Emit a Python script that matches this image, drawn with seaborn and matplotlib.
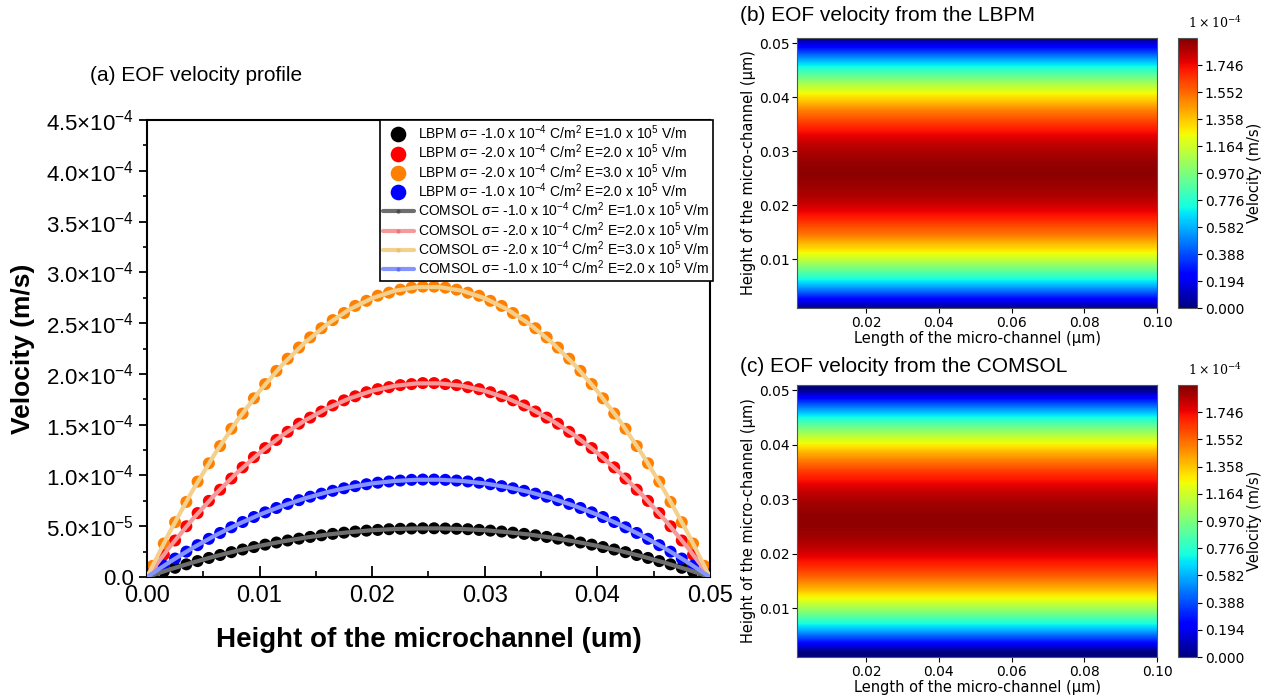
import numpy as np
import pandas as pd
import matplotlib
matplotlib.use("Agg")
import matplotlib.pyplot as plt
from matplotlib.ticker import MultipleLocator
import seaborn as sns

# ---------------- data (velocities in units of 1e-4 m/s) ----------------
lbpm_x = [0.0005, 0.0015, 0.0025, 0.0035, 0.0045, 0.0055, 0.0065, 0.0075, 0.0085, 0.0095,
          0.0105, 0.0115, 0.0125, 0.0135, 0.0145, 0.0155, 0.0165, 0.0175, 0.0185, 0.0195,
          0.0205, 0.0215, 0.0225, 0.0235, 0.0245, 0.0255, 0.0265, 0.0275, 0.0285, 0.0295,
          0.0305, 0.0315, 0.0325, 0.0335, 0.0345, 0.0355, 0.0365, 0.0375, 0.0385, 0.0395,
          0.0405, 0.0415, 0.0425, 0.0435, 0.0445, 0.0455, 0.0465, 0.0475, 0.0485, 0.0495]

lbpm_black = [0.019, 0.056, 0.091, 0.125, 0.157, 0.188, 0.217, 0.245, 0.271, 0.295,
              0.319, 0.340, 0.360, 0.378, 0.395, 0.411, 0.425, 0.437, 0.448, 0.457,
              0.464, 0.471, 0.475, 0.478, 0.480, 0.480, 0.478, 0.475, 0.471, 0.464,
              0.457, 0.448, 0.437, 0.425, 0.411, 0.395, 0.378, 0.360, 0.340, 0.319,
              0.295, 0.271, 0.245, 0.217, 0.188, 0.157, 0.125, 0.091, 0.056, 0.019]

lbpm_red = [0.08, 0.22, 0.36, 0.50, 0.63, 0.75, 0.86, 0.97, 1.08, 1.18,
            1.27, 1.35, 1.43, 1.51, 1.57, 1.63, 1.69, 1.74, 1.78, 1.82,
            1.85, 1.87, 1.89, 1.90, 1.91, 1.91, 1.90, 1.89, 1.87, 1.85,
            1.82, 1.78, 1.74, 1.69, 1.63, 1.57, 1.51, 1.43, 1.35, 1.27,
            1.18, 1.08, 0.97, 0.86, 0.75, 0.63, 0.50, 0.36, 0.22, 0.08]

lbpm_orange = [0.11, 0.33, 0.54, 0.74, 0.94, 1.12, 1.29, 1.46, 1.61, 1.76,
               1.90, 2.03, 2.15, 2.26, 2.36, 2.45, 2.53, 2.60, 2.67, 2.72,
               2.77, 2.80, 2.83, 2.85, 2.86, 2.86, 2.85, 2.83, 2.80, 2.77,
               2.72, 2.67, 2.60, 2.53, 2.45, 2.36, 2.26, 2.15, 2.03, 1.90,
               1.76, 1.61, 1.46, 1.29, 1.12, 0.94, 0.74, 0.54, 0.33, 0.11]

lbpm_blue = [0.038, 0.112, 0.182, 0.250, 0.314, 0.376, 0.434, 0.490, 0.542, 0.591,
             0.637, 0.680, 0.720, 0.757, 0.791, 0.821, 0.849, 0.874, 0.895, 0.914,
             0.929, 0.941, 0.950, 0.957, 0.960, 0.960, 0.957, 0.950, 0.941, 0.929,
             0.914, 0.895, 0.874, 0.849, 0.821, 0.791, 0.757, 0.720, 0.680, 0.637,
             0.591, 0.542, 0.490, 0.434, 0.376, 0.314, 0.250, 0.182, 0.112, 0.038]

comsol_x = [0.000, 0.002, 0.004, 0.006, 0.008, 0.010, 0.012, 0.014, 0.016, 0.018,
            0.020, 0.022, 0.024, 0.026, 0.028, 0.030, 0.032, 0.034, 0.036, 0.038,
            0.040, 0.042, 0.044, 0.046, 0.048, 0.050]

comsol_black = [0.0, 0.074, 0.141, 0.203, 0.258, 0.307, 0.350, 0.387, 0.418, 0.442, 0.461, 0.473, 0.479,
                0.479, 0.473, 0.461, 0.442, 0.418, 0.387, 0.350, 0.307, 0.258, 0.203, 0.141, 0.074, 0.0]
comsol_red = [0.0, 0.293, 0.562, 0.807, 1.027, 1.222, 1.394, 1.540, 1.662, 1.760, 1.834, 1.883, 1.907,
              1.907, 1.883, 1.834, 1.760, 1.662, 1.540, 1.394, 1.222, 1.027, 0.807, 0.562, 0.293, 0.0]
comsol_orange = [0.0, 0.439, 0.842, 1.208, 1.538, 1.830, 2.087, 2.306, 2.489, 2.636, 2.746, 2.819, 2.855,
                 2.855, 2.819, 2.746, 2.636, 2.489, 2.306, 2.087, 1.830, 1.538, 1.208, 0.842, 0.439, 0.0]
comsol_blue = [0.0, 0.147, 0.283, 0.406, 0.516, 0.614, 0.700, 0.774, 0.836, 0.885, 0.922, 0.946, 0.958,
               0.958, 0.946, 0.922, 0.885, 0.836, 0.774, 0.700, 0.614, 0.516, 0.406, 0.283, 0.147, 0.0]

lbpm_labels = [
    r"LBPM σ= -1.0 x 10$^{-4}$ C/m$^{2}$ E=1.0 x 10$^{5}$ V/m",
    r"LBPM σ= -2.0 x 10$^{-4}$ C/m$^{2}$ E=2.0 x 10$^{5}$ V/m",
    r"LBPM σ= -2.0 x 10$^{-4}$ C/m$^{2}$ E=3.0 x 10$^{5}$ V/m",
    r"LBPM σ= -1.0 x 10$^{-4}$ C/m$^{2}$ E=2.0 x 10$^{5}$ V/m",
]
comsol_labels = [
    r"COMSOL σ= -1.0 x 10$^{-4}$ C/m$^{2}$ E=1.0 x 10$^{5}$ V/m",
    r"COMSOL σ= -2.0 x 10$^{-4}$ C/m$^{2}$ E=2.0 x 10$^{5}$ V/m",
    r"COMSOL σ= -2.0 x 10$^{-4}$ C/m$^{2}$ E=3.0 x 10$^{5}$ V/m",
    r"COMSOL σ= -1.0 x 10$^{-4}$ C/m$^{2}$ E=2.0 x 10$^{5}$ V/m",
]
y_ticks = [0.0, 0.5, 1.0, 1.5, 2.0, 2.5, 3.0, 3.5, 4.0, 4.5]
y_ticklabels = ["0.0", r"5.0×10$^{-5}$", r"1.0×10$^{-4}$", r"1.5×10$^{-4}$", r"2.0×10$^{-4}$",
                r"2.5×10$^{-4}$", r"3.0×10$^{-4}$", r"3.5×10$^{-4}$", r"4.0×10$^{-4}$", r"4.5×10$^{-4}$"]
x_ticks = [0.00, 0.01, 0.02, 0.03, 0.04, 0.05]
cbar_ticks = [0.000, 0.194, 0.388, 0.582, 0.776, 0.970, 1.164, 1.358, 1.552, 1.746]

# heat-map extents (length, height) in micrometres
heat_len = [0.001, 0.100]
heat_height = [0.001, 0.051]

lbpm_colors = ["#000000", "#ff0000", "#ff8000", "#0000ff"]
comsol_colors = ["#6e6e6e", "#f59a9a", "#f3d08e", "#8594ff"]
comsol_dot_colors = ["#4a4a4a", "#e87878", "#e8c070", "#6070f0"]

# ---------------- style ----------------
sns.set_theme(style="ticks")
plt.rcParams["font.family"] = ["Liberation Sans", "DejaVu Sans"]
plt.rcParams["mathtext.fontset"] = "custom"
plt.rcParams["mathtext.rm"] = "Liberation Sans"
plt.rcParams["mathtext.it"] = "Liberation Sans:italic"
plt.rcParams["mathtext.bf"] = "Liberation Sans:bold"
for k in ["text.color", "axes.labelcolor", "xtick.color", "ytick.color", "axes.edgecolor"]:
    plt.rcParams[k] = "black"

fig = plt.figure(figsize=(12.7, 6.98), dpi=100)

# ---------------- panel (a) ----------------
ax = fig.add_axes([0.1157, 0.1733, 0.4433, 0.6547])

rows = []
for lab, ys in zip(lbpm_labels, [lbpm_black, lbpm_red, lbpm_orange, lbpm_blue]):
    for x, y in zip(lbpm_x, ys):
        rows.append({"x": x, "v": y, "series": lab})
df_l = pd.DataFrame(rows)
rows = []
for lab, ys in zip(comsol_labels, [comsol_black, comsol_red, comsol_orange, comsol_blue]):
    for x, y in zip(comsol_x, ys):
        rows.append({"x": x, "v": y, "series": lab})
df_c = pd.DataFrame(rows)

sns.scatterplot(data=df_l, x="x", y="v", hue="series", palette=lbpm_colors,
                s=75, linewidth=0, ax=ax, zorder=2)
sns.lineplot(data=df_c, x="x", y="v", hue="series", palette=comsol_colors,
             linewidth=3, ax=ax, zorder=3, sort=False)

ax.set_xlim(0, 0.05)
ax.set_ylim(0, 4.5)
ax.set_xticks(x_ticks)
ax.set_xticklabels([f"{t:.2f}" for t in x_ticks])
ax.xaxis.set_minor_locator(MultipleLocator(0.005))
ax.set_yticks(y_ticks)
ax.set_yticklabels(y_ticklabels)
ax.yaxis.set_minor_locator(MultipleLocator(0.25))
ax.tick_params(axis="x", which="major", direction="in", length=8, width=1.3, labelsize=17, pad=6)
ax.tick_params(axis="x", which="minor", direction="in", length=4, width=1.2)
ax.tick_params(axis="y", which="major", direction="out", length=6, width=1.3, labelsize=16, pad=3)
ax.tick_params(axis="y", which="minor", direction="out", length=3, width=1.2)
for sp in ax.spines.values():
    sp.set_linewidth(1.5)
    sp.set_color("black")
    sp.set_visible(True)
ax.set_xlabel("Height of the microchannel (um)", fontsize=20, fontweight="bold", labelpad=14)
ax.set_ylabel("Velocity (m/s)", fontsize=19, fontweight="bold", labelpad=8)
fig.text(0.071, 0.892, "(a) EOF velocity profile", fontsize=15, ha="left", va="center")

handles, labels = ax.get_legend_handles_labels()
leg = ax.legend(handles, labels, loc="upper right", bbox_to_anchor=(1.005, 1.0),
                fontsize=10, frameon=True, fancybox=False, edgecolor="black", framealpha=1,
                borderaxespad=0.0, handlelength=2.2, handletextpad=0.3,
                labelspacing=0.05, borderpad=0.25, markerscale=1.3)
leg.get_frame().set_linewidth(1.2)
leg.set_zorder(10)
for h, dc in zip(leg.legend_handles[4:], comsol_dot_colors):
    h.set_marker("o")
    h.set_markersize(3)
    h.set_markerfacecolor(dc)
    h.set_markeredgecolor(dc)
    h.set_markeredgewidth(0)

# ---------------- panels (b) and (c) ----------------
prof_lbpm = np.array(lbpm_red)
prof_comsol = np.array(comsol_red)
ncols = 100
field_lbpm = np.tile(prof_lbpm[:, None], (1, ncols))
field_comsol = np.tile(prof_comsol[:, None], (1, ncols))

panel_specs = [
    ([0.6276, 0.5587, 0.2835, 0.3868], [0.9276, 0.5587, 0.0150, 0.3868],
     field_lbpm, "(b) EOF velocity from the LBPM", 0.978),
    ([0.6276, 0.0587, 0.2835, 0.3897], [0.9276, 0.0587, 0.0150, 0.3897],
     field_comsol, "(c) EOF velocity from the COMSOL", 0.475),
]
for ax_pos, cb_pos, field, title, ty in panel_specs:
    hax = fig.add_axes(ax_pos)
    cax = fig.add_axes(cb_pos)
    im = hax.imshow(field, origin="lower", aspect="auto", cmap="jet", vmin=0, vmax=1.94,
                    extent=[heat_len[0], heat_len[1], heat_height[0], heat_height[1]],
                    interpolation="bilinear")
    hax.set_xticks([0.02, 0.04, 0.06, 0.08, 0.10])
    hax.set_yticks([0.01, 0.02, 0.03, 0.04, 0.05])
    hax.set_xticklabels(["0.02", "0.04", "0.06", "0.08", "0.10"], family="DejaVu Sans")
    hax.set_yticklabels(["0.01", "0.02", "0.03", "0.04", "0.05"], family="DejaVu Sans")
    hax.tick_params(labelsize=10, length=3.5, width=0.8, direction="out", pad=2)
    hax.set_xlabel("Length of the micro-channel (μm)", fontsize=10.5, family="DejaVu Sans", labelpad=1)
    hax.set_ylabel("Height of the micro-channel (μm)", fontsize=10.5, family="DejaVu Sans", labelpad=2)
    for sp in hax.spines.values():
        sp.set_linewidth(0.8)
        sp.set_color("#555555")
    cb = fig.colorbar(im, cax=cax)
    cb.set_ticks(cbar_ticks)
    cb.set_ticklabels([f"{t:.3f}" for t in cbar_ticks])
    cb.ax.tick_params(labelsize=10, length=3.5, width=0.8, pad=2)
    for lab in cb.ax.get_yticklabels():
        lab.set_family("DejaVu Sans")
    cb.set_label("Velocity (m/s)", fontsize=10.5, family="DejaVu Sans", labelpad=2)
    cb.outline.set_linewidth(0.8)
    cb.outline.set_edgecolor("#555555")
    cax.text(0.5, 1.025, r"$1\times10^{-4}$", transform=cax.transAxes, fontsize=9,
             ha="left", va="bottom", math_fontfamily="dejavuserif")
    fig.text(0.583, ty, title, fontsize=15, ha="left", va="center")

fig.savefig("out.png", dpi=100)
